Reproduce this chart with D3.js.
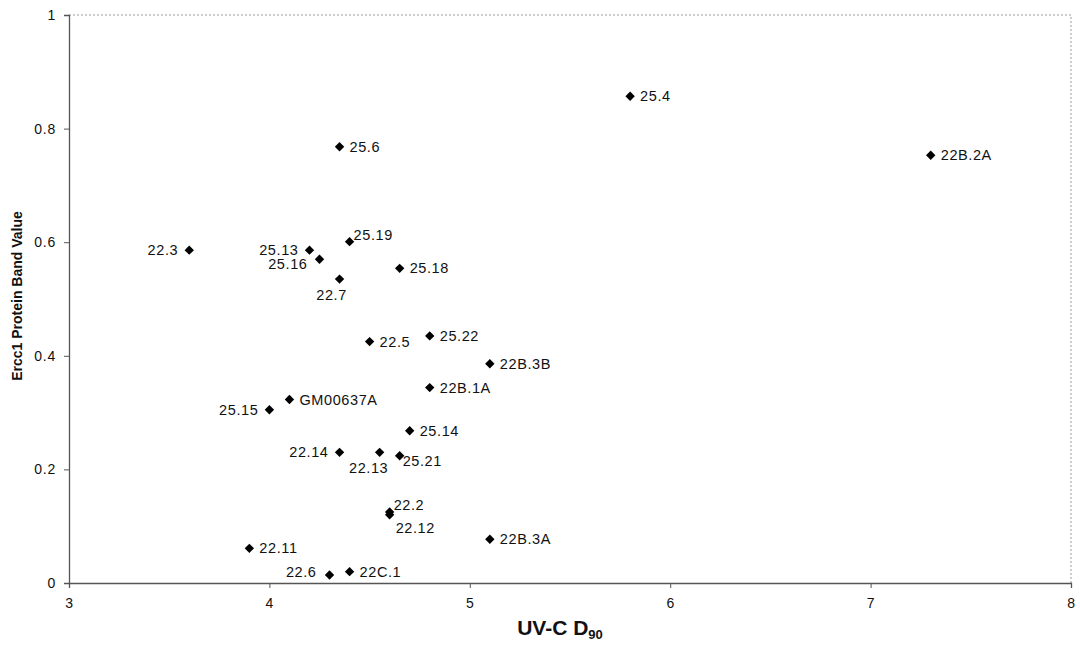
<!DOCTYPE html>
<html>
<head>
<meta charset="utf-8">
<script src="https://cdn.jsdelivr.net/npm/d3@7"></script>
<style>
  body { margin: 0; background: #fff; }
  text { font-family: "Liberation Sans", Arial, sans-serif; fill: #111; }
</style>
</head>
<body>
<div class="container"></div>
<script>
// datos
const names  = ["25.4", "22B.2A", "25.6", "22.3", "25.13", "25.16", "25.19", "22.7", "25.18",
                "22.5", "25.22", "22B.3B", "22B.1A", "GM00637A", "25.15", "25.14", "22.14", "22.13",
                "25.21", "22.2", "22.12", "22B.3A", "22.11", "22.6", "22C.1"]
const uvcD90 = [5.8, 7.3, 4.35, 3.6, 4.2, 4.25, 4.4, 4.35, 4.65,
                4.5, 4.8, 5.1, 4.8, 4.1, 4.0, 4.7, 4.35, 4.55,
                4.65, 4.6, 4.6, 5.1, 3.9, 4.3, 4.4]
const ercc1  = [0.857, 0.753, 0.768, 0.586, 0.586, 0.570, 0.601, 0.535, 0.554,
                0.425, 0.435, 0.386, 0.344, 0.323, 0.305, 0.268, 0.230, 0.230,
                0.224, 0.125, 0.120, 0.077, 0.061, 0.014, 0.020]
// lado de la etiqueta: r derecha, l izquierda, b abajo, ru arriba-derecha, rb abajo-derecha
const labelSide = ["r", "r", "r", "l", "l", "lb", "ru", "b", "r",
                   "r", "r", "r", "r", "r", "l", "r", "l", "bl",
                   "rs", "ru", "rb", "r", "r", "ll", "r"]
const xTicks = [3, 4, 5, 6, 7, 8]
const yTicks = [0, 0.2, 0.4, 0.6, 0.8, 1]

const width = 1080
const height = 646
const margin = { top: 15, bottom: 63, left: 69, right: 9 }

const svg = d3.select(".container").append("svg").attr("width", width).attr("height", height)
const axisGroup = svg.append("g").attr("id", "axisGroup")
const elementGroup = svg.append("g").attr("id", "elementGroup")

const x = d3.scaleLinear().domain([3, 8]).range([margin.left, width - margin.right])
const y = d3.scaleLinear().domain([0, 1]).range([height - margin.bottom, margin.top])

// marco punteado arriba y derecha
axisGroup.append("path")
    .attr("d", `M${x(3)},${y(1)}H${x(8)}V${y(0)}`)
    .attr("fill", "none")
    .attr("stroke", "#9a9a9a")
    .attr("stroke-dasharray", "2,2")

const xAxis = d3.axisBottom(x).tickValues(xTicks).tickFormat(d3.format("d")).tickSize(5).tickPadding(10)
const yAxis = d3.axisLeft(y).tickValues(yTicks).tickFormat(d => d).tickSize(5).tickPadding(8)

const xAxisGroup = axisGroup.append("g").attr("transform", `translate(0,${y(0)})`).call(xAxis)
const yAxisGroup = axisGroup.append("g").attr("transform", `translate(${x(3)},0)`).call(yAxis)

axisGroup.selectAll(".domain").attr("stroke", "#555").attr("stroke-width", 1.3)
axisGroup.selectAll(".tick line").attr("stroke", "#555")
axisGroup.selectAll(".tick text")
    .style("font-family", "Liberation Sans, Arial, sans-serif")
    .style("font-size", "14px")
    .style("letter-spacing", "0.8px")
    .attr("fill", "#111")

// titulos
const xt = svg.append("text")
    .attr("x", (x(3) + x(8)) / 2 - 10)
    .attr("y", 635)
    .attr("text-anchor", "middle")
    .style("font-size", "21px")
    .style("font-weight", 700)
xt.append("tspan").text("UV-C D")
xt.append("tspan").attr("dy", 4).style("font-size", "13px").text("90")

svg.append("text")
    .attr("transform", `translate(22,296) rotate(-90)`)
    .attr("text-anchor", "middle")
    .style("font-size", "14px")
    .style("font-weight", 700)
    .text("Ercc1 Protein Band Value")

// puntos
const data = names.map((n, i) => ({ name: n, x: uvcD90[i], y: ercc1[i], side: labelSide[i] }))

const diamond = d3.symbol().type(d3.symbolDiamond2).size(56)

elementGroup.selectAll("path.pt").data(data)
    .join("path")
    .attr("class", "pt")
    .attr("d", diamond)
    .attr("transform", d => `translate(${x(d.x)},${y(d.y)})`)
    .attr("fill", "#000")

const place = {
    r:  { dx: 10,  dy: 5,  anchor: "start" },
    l:  { dx: -11, dy: 5,  anchor: "end" },
    lb: { dx: -12, dy: 10, anchor: "end" },
    ll: { dx: -13, dy: 2,  anchor: "end" },
    b:  { dx: -8,  dy: 21, anchor: "middle" },
    bl: { dx: -11, dy: 21, anchor: "middle" },
    ru: { dx: 4,   dy: -2, anchor: "start" },
    rb: { dx: 6,   dy: 18, anchor: "start" },
    rs: { dx: 3,   dy: 10, anchor: "start" }
}

elementGroup.selectAll("text.lbl").data(data)
    .join("text")
    .attr("class", "lbl")
    .attr("x", d => x(d.x) + place[d.side].dx)
    .attr("y", d => y(d.y) + place[d.side].dy)
    .attr("text-anchor", d => place[d.side].anchor)
    .style("font-size", "14.5px")
    .style("letter-spacing", "0.6px")
    .text(d => d.name)
</script>
</body>
</html>
